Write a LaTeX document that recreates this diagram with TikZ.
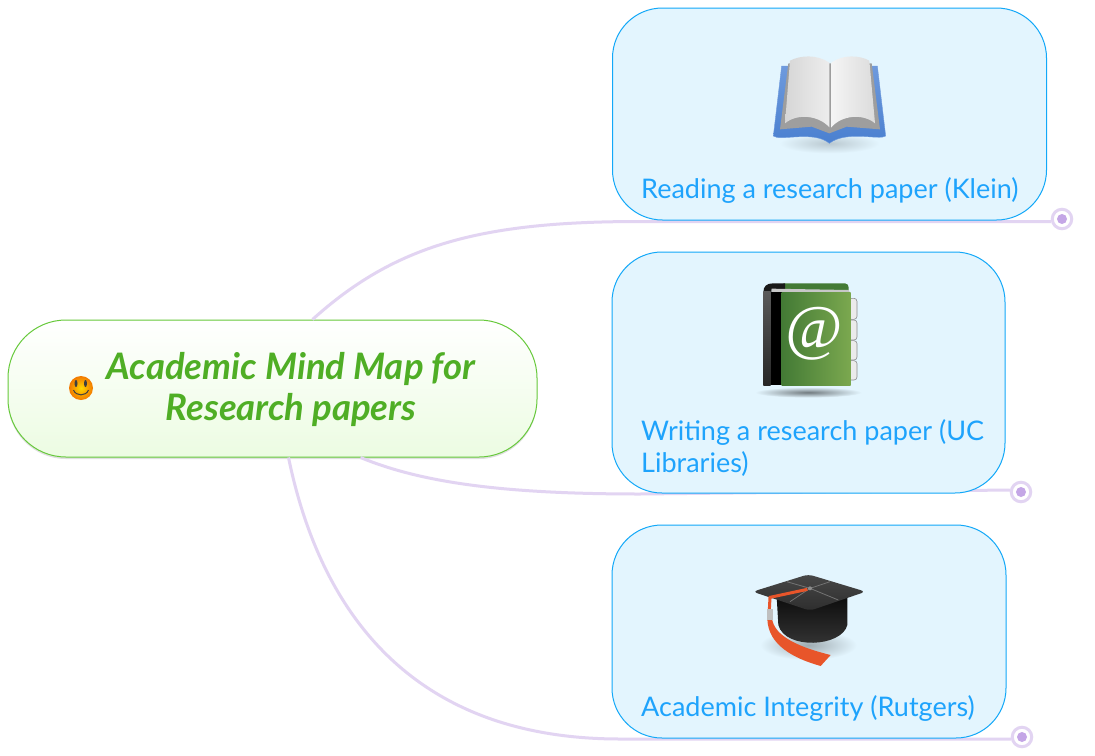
\documentclass[tikz,border=0pt]{standalone}
\usepackage{fontspec}
\setmainfont{Lato}
\newfontfamily\atfont{Liberation Serif}
\usetikzlibrary{shadows}
\definecolor{linkc}{HTML}{E2D4F2}
\definecolor{dotc}{HTML}{C4A6E6}
\definecolor{boxfill}{HTML}{E3F5FE}
\definecolor{boxline}{HTML}{12A8F8}
\definecolor{labelc}{HTML}{1EA3FC}
\definecolor{rootline}{HTML}{66C93A}
\definecolor{rootfill}{HTML}{ECFCE2}
\definecolor{rootc}{HTML}{4FAE25}
\definecolor{coverdark}{HTML}{437A35}
\definecolor{coverlight}{HTML}{7BA84F}
\definecolor{bookblue}{HTML}{4A80D0}
\definecolor{booklight}{HTML}{6E9ADD}
\definecolor{tassel}{HTML}{E8552A}
\begin{document}
\begin{tikzpicture}[x=1pt, y=-1pt,
    topic/.style = {draw=boxline, line width=1pt, fill=boxfill, rounded corners=50pt, inner sep=0pt},
    topiclabel/.style = {text=labelc, font=\fontsize{27}{32}\selectfont, anchor=west, align=left, inner sep=0pt},
    rootbox/.style = {draw=rootline, line width=1pt, top color=white, bottom color=rootfill, rounded corners=58pt, inner sep=0pt, minimum width=529pt, minimum height=137pt, drop shadow={shadow xshift=0pt, shadow yshift=-2pt, opacity=.25}},
    link/.style = {draw=linkc, line width=3pt},
    ring/.style = {circle, draw=linkc, line width=3pt, fill=white, inner sep=0pt, minimum size=19.5pt},
    dot/.style = {circle, fill=dotc, inner sep=0pt, minimum size=10pt}]
    \useasboundingbox[fill=white] (0,0) rectangle (1095,755);
    \node[rootbox] (root) at (272.5,388.5) {};
    \node[ring] (endA) at (1062,219) {};
    \node[ring] (endB) at (1021,492) {};
    \node[ring] (endC) at (1022,737) {};
    \node[dot] (dotA) at (endA) {};
    \node[dot] (dotB) at (endB) {};
    \node[dot] (dotC) at (endC) {};
    \draw[link] ([xshift=40pt]root.north) .. controls (395,245) and (480,221.5) .. (640,221.5) -- ([yshift=-2.5pt]endA.west);
    \draw[link] ([xshift=88pt]root.south) .. controls (420,482) and (500,494) .. (640,494) -- ([yshift=2pt]endB.west);
    \draw[link] ([xshift=16pt]root.south) .. controls (320,610) and (410,739) .. (620,739) -- ([yshift=-2pt]endC.west);
    \node[topic, minimum width=434pt, minimum height=212pt] (reading) at (829.5,114) {};
    \node[topic, minimum width=393pt, minimum height=241pt] (writing) at (808.5,372.5) {};
    \node[topic, minimum width=394pt, minimum height=213pt] (integrity) at (809,631.5) {};
    \node[topiclabel] (readingtext) at (641,190) {Reading a research paper (Klein)};
    \node[topiclabel] (writingtext) at (641,448) {Writing a research paper (UC\\Libraries)};
    \node[topiclabel] (integritytext) at (641,708) {Academic Integrity (Rutgers)};
    \node[text=rootc, font=\fontsize{36.5}{41}\selectfont\bfseries\itshape, align=center, inner sep=0pt] (roottext) at (291,389) {Academic Mind Map for\\Research papers};
    % smiley
    \node[circle, inner sep=0pt, minimum size=24pt, inner color=yellow!70!orange, outer color=orange!95!black] (smiley) at (81,388) {};
    \fill[black!75] (76,383.5) ellipse (1.5 and 3.5) (85.5,383.5) ellipse (1.5 and 3.5);
    \draw[black!75, line width=1pt] (73.5,390) .. controls (76,396.5) and (86,396.5) .. (88.5,390);
    % book
    \begin{scope}[shift={(740,30)}, xscale=1/3, yscale=1/3]
        \shade[inner color=black!18!boxfill, outer color=boxfill] (268,340) ellipse (150 and 30);
        \shade[top color=booklight, bottom color=bookblue, draw=booklight] (125,108) -- (412,108) -- (437,318)
            .. controls (420,332) and (320,300) .. (268,340) .. controls (220,300) and (120,335) .. (100,318) -- cycle;
        \fill[black!38] (145,100) -- (395,100) -- (420,298) -- (320,290) -- (268,310) -- (215,290) -- (120,298) -- cycle;
        \shade[left color=black!16, right color=black!7] (268,98) .. controls (230,72) and (180,76) .. (150,92) -- (135,280)
            .. controls (170,250) and (235,255) .. (268,292) -- cycle;
        \shade[left color=black!4, right color=black!14] (274,98) .. controls (310,72) and (360,76) .. (388,92) -- (405,280)
            .. controls (370,250) and (305,255) .. (274,292) -- cycle;
    \end{scope}
    % address book
    \begin{scope}[shift={(730,270)}, xscale=1/3, yscale=1/3]
        \shade[inner color=black!50!boxfill, outer color=boxfill] (235,367) ellipse (160 and 16);
        \foreach \ya/\yb in {85/148, 150/210, 212/270, 272/330}
            \draw[fill=black!8, draw=black!45, line width=.6pt, rounded corners=3pt] (355,\ya) rectangle (381,\yb);
        \fill[coverdark] (160,40) -- (345,40) .. controls (353,40) and (356,45) .. (356,60) -- (160,60) -- cycle;
        \fill[black!90] (100,68) .. controls (100,48) and (110,40) .. (130,40) -- (165,40) -- (165,58) -- (125,58) -- (125,68) -- cycle;
        \fill[black!22] (125,56) -- (356,60) -- (360,68) -- (125,66) -- cycle;
        \shade[bottom color=black!85, top color=black!65] (100,65) rectangle (122,345);
        \fill[black] (122,65) rectangle (155,345);
        \shade[left color=coverdark, right color=coverlight] (155,68) rectangle (362,345);
        \node[text=white, font=\fontsize{62}{62}\selectfont\atfont\itshape, inner sep=0pt] (atsign) at (253,190) {@};
    \end{scope}
    % cap
    \begin{scope}[shift={(730,560)}, xscale=1/3, yscale=1/3]
        \shade[inner color=black!30!boxfill, outer color=boxfill] (235,255) ellipse (145 and 45);
        \shade[top color=black!95, bottom color=black!78] (140,110) -- (352,110) -- (352,195) .. controls (335,262) and (165,270) .. (145,195) -- cycle;
        \shade[top color=black!72, bottom color=black!82, rounded corners=5pt] (235,43) -- (407,95) -- (240,152) -- (68,95) -- cycle;
        \draw[black!55, line width=.8pt] (170,65) -- (240,85) -- (325,120) (180,125) -- (240,85) -- (300,65);
        \fill[black!45] (240,85) circle (6);
        \draw[tassel, line width=3pt] (232,88) -- (120,112) -- (118,150);
        \fill[tassel] (112,178) -- (126,178) .. controls (135,220) and (180,255) .. (302,285) -- (272,318) .. controls (190,295) and (115,255) .. cycle;
        \fill[black!25] (110,148) rectangle (130,180);
    \end{scope}
\end{tikzpicture}
\end{document}
